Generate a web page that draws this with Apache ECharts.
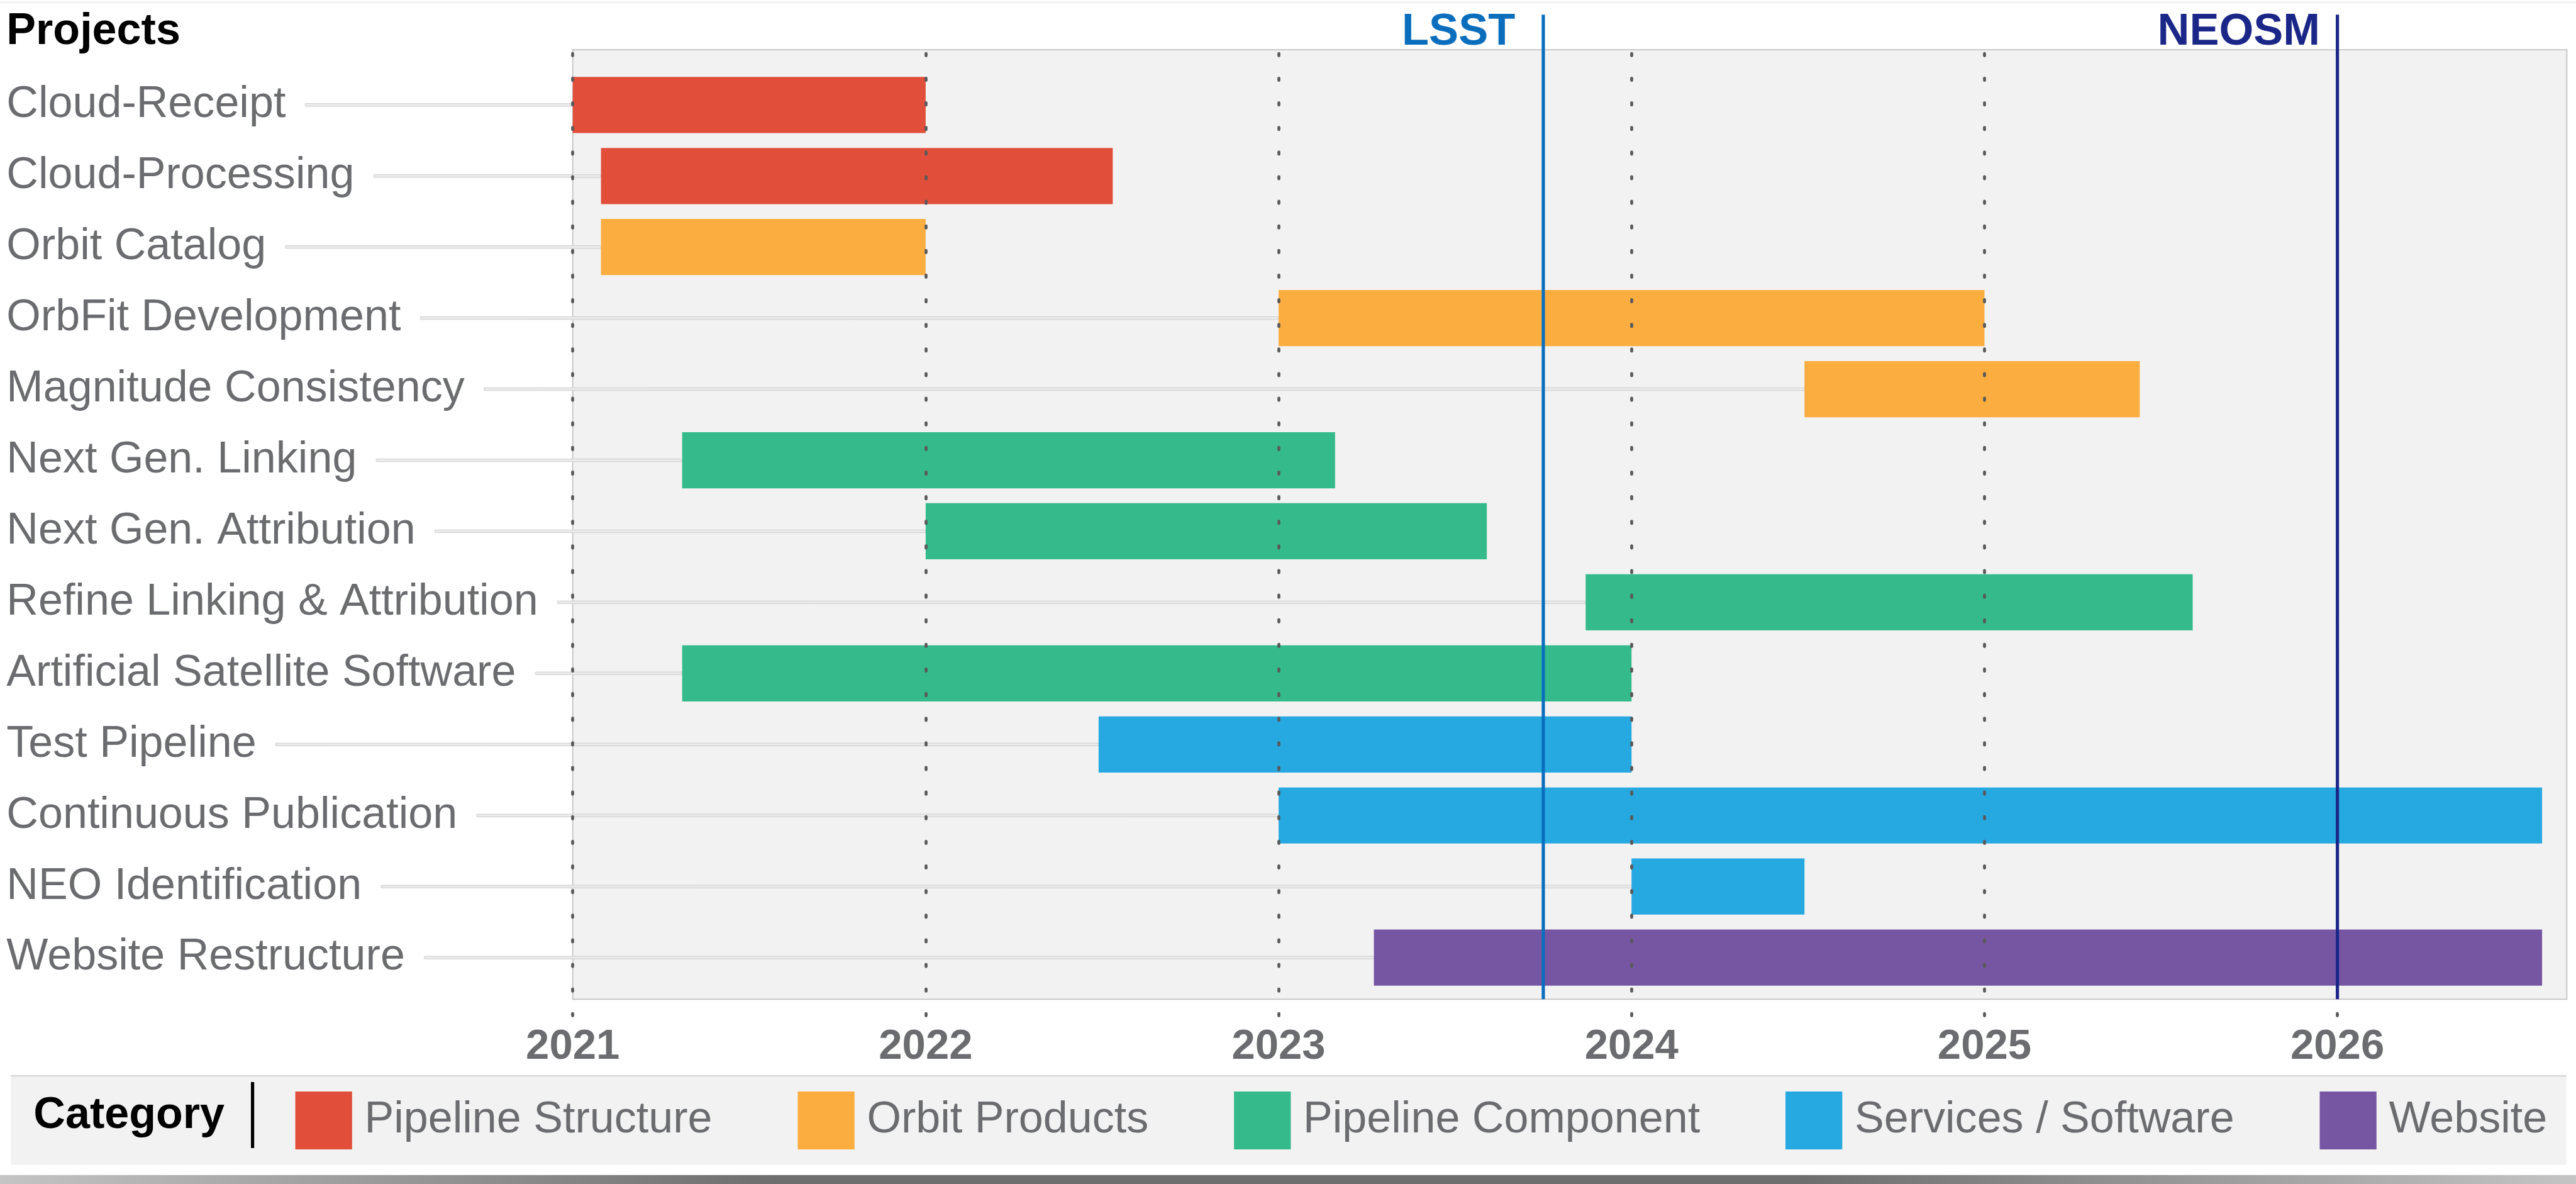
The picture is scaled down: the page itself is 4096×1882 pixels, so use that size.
<!DOCTYPE html>
<html>
<head>
<meta charset="utf-8">
<script src="https://cdn.jsdelivr.net/npm/echarts@6/dist/echarts.min.js"></script>
<style>
html,body{margin:0;padding:0;background:#ffffff;}
#chart{width:4096px;height:1882px;}
</style>
</head>
<body>
<div id="chart"></div>
<script>
// ---------------- data ----------------
const projects = [
  'Cloud-Receipt', 'Cloud-Processing', 'Orbit Catalog', 'OrbFit Development',
  'Magnitude Consistency', 'Next Gen. Linking', 'Next Gen. Attribution',
  'Refine Linking & Attribution', 'Artificial Satellite Software', 'Test Pipeline',
  'Continuous Publication', 'NEO Identification', 'Website Restructure'
];
const categories = ['Pipeline Structure', 'Orbit Products', 'Pipeline Component', 'Services / Software', 'Website'];
const projectCategory = [0, 0, 1, 1, 1, 2, 2, 2, 2, 3, 3, 3, 4];
const startYear = [2021.00, 2021.08, 2021.08, 2023.00, 2024.49, 2021.31, 2022.00, 2023.87, 2021.31, 2022.49, 2023.00, 2024.00, 2023.27];
const endYear   = [2022.00, 2022.53, 2022.00, 2025.00, 2025.44, 2023.16, 2023.59, 2025.59, 2024.00, 2024.00, 2026.58, 2024.49, 2026.58];
const yearTicks = [2021, 2022, 2023, 2024, 2025, 2026];
const milestones = ['LSST', 'NEOSM'];
const milestoneYear = [2023.75, 2026.00];

// ---------------- styles ----------------
const categoryColors = ['#E14F3B', '#FBAD3F', '#35BA8C', '#26A8E0', '#7656A3'];
const milestoneColors = ['#0B6EBD', '#1B2788'];
const K = 4096 / 4763;
const milestoneLabelGap = [52 * K, 32 * K];
const FONT = '"Liberation Sans", Arial, Helvetica, sans-serif';
const FS = 81.5 * K;
const LABEL_GRAY = '#6b6c6f';
const X_MIN = 2021, X_MAX = 2026.65;
const PLOT_L = 1059 * K, PLOT_W = 3687 * K;
const LABEL_X = 12 * K, LABEL_GAP = 36 * K;

const measureCtx = document.createElement('canvas').getContext('2d');
measureCtx.font = FS + 'px ' + FONT;
function textWidth(t) { return measureCtx.measureText(t).width; }

function barRender(params, api) {
  const row = api.value(0);
  const p0 = api.coord([api.value(1), row]);
  const p1 = api.coord([api.value(2), row]);
  const h = api.size([0, 1])[1] * 0.79;
  return {
    type: 'rect',
    shape: { x: p0[0], y: p0[1] - h / 2, width: p1[0] - p0[0], height: h },
    style: { fill: api.visual('color') }
  };
}

function connRender(params, api) {
  const row = api.value(0);
  const pEnd = api.coord([api.value(1), row]);
  const x1 = LABEL_X + textWidth(projects[row]) + LABEL_GAP;
  const hh = 5 * K;
  return {
    type: 'rect',
    shape: { x: x1, y: pEnd[1] - hh / 2, width: Math.max(0, pEnd[0] - x1), height: hh },
    style: { fill: '#ebebeb', stroke: '#cdcdcd', lineWidth: 1 }
  };
}

function msRender(params, api) {
  const cs = params.coordSys;
  const x = api.coord([api.value(0), 0])[0];
  const color = api.visual('color');
  return {
    type: 'group',
    children: [
      { type: 'line', shape: { x1: x, y1: cs.y, x2: x, y2: cs.y + cs.height },
        style: { stroke: color, lineWidth: 6 * K } },
      { type: 'text', style: {
          text: milestones[params.dataIndex], x: x - milestoneLabelGap[params.dataIndex], y: cs.y + 33 * K,
          align: 'right', verticalAlign: 'middle',
          fontFamily: FONT, fontSize: 82 * K, fontWeight: 'bold', fill: color } }
    ]
  };
}

const series = [];
categories.forEach(function (cat, c) {
  const data = [];
  projects.forEach(function (p, i) {
    if (projectCategory[i] === c) data.push([i, startYear[i], endYear[i]]);
  });
  series.push({
    type: 'custom', name: cat, xAxisIndex: 2, yAxisIndex: 2,
    renderItem: barRender, encode: { x: [1, 2], y: 0 }, data: data,
    itemStyle: { color: categoryColors[c] }, z: 3, silent: true
  });
});
series.push({
  type: 'custom', name: 'connectors', xAxisIndex: 2, yAxisIndex: 2,
  renderItem: connRender, encode: { x: 1, y: 0 },
  data: projects.map(function (p, i) { return [i, startYear[i]]; }),
  z: 1, silent: true
});
series.push({
  type: 'custom', name: 'milestones', xAxisIndex: 3, yAxisIndex: 3,
  renderItem: msRender, encode: { x: 0, y: 1 },
  data: milestones.map(function (m, i) {
    return { value: [milestoneYear[i], 0], name: m, itemStyle: { color: milestoneColors[i] } };
  }),
  z: 6, silent: true
});

function gridAt(top, bottom, extra) {
  return Object.assign({
    left: PLOT_L, width: PLOT_W, top: top * K, height: (bottom - top) * K,
    outerBoundsMode: 'none', containLabel: false
  }, extra || {});
}

const hiddenX = function (gi) { return { gridIndex: gi, type: 'value', min: X_MIN, max: X_MAX, show: false }; };

const option = {
  animation: false,
  backgroundColor: '#ffffff',
  textStyle: { fontFamily: FONT },
  grid: [
    gridAt(92, 1847, { show: true, backgroundColor: '#f2f2f2', borderColor: '#c2c2c2', borderWidth: 2 * K }),
    gridAt(99, 1890),
    gridAt(194, 1770),
    gridAt(27, 1847)
  ],
  xAxis: [
    hiddenX(0),
    {
      gridIndex: 1, type: 'value', min: X_MIN, max: X_MAX, interval: 1, z: 5,
      axisLine: { show: false }, axisTick: { show: false },
      splitLine: { show: true, showMaxLine: false,
        lineStyle: { color: '#595959', width: 5.5 * K, type: [4 * K, 41.5 * K], cap: 'round' } },
      axisLabel: {
        show: true, showMaxLabel: false, margin: 7 * K,
        fontFamily: FONT, fontSize: 78 * K, fontWeight: 'bold', color: LABEL_GRAY,
        formatter: function (v) { return yearTicks.indexOf(Math.round(v)) >= 0 && Math.abs(v - Math.round(v)) < 1e-6 ? String(Math.round(v)) : ''; }
      }
    },
    hiddenX(2),
    hiddenX(3)
  ],
  yAxis: [
    { gridIndex: 0, type: 'value', show: false },
    { gridIndex: 1, type: 'value', show: false },
    {
      gridIndex: 2, type: 'category', data: projects, inverse: true, boundaryGap: false,
      axisLine: { show: false }, axisTick: { show: false }, splitLine: { show: false },
      axisLabel: { align: 'left', margin: PLOT_L - LABEL_X, fontFamily: FONT, fontSize: FS, color: LABEL_GRAY, interval: 0 }
    },
    { gridIndex: 3, type: 'value', min: 0, max: 1, show: false }
  ],
  legend: {
    data: categories, selectedMode: false, orient: 'horizontal',
    left: 546 * K, top: (2071 - 53.5) * K, padding: 0,
    icon: 'rect', itemWidth: 105 * K, itemHeight: 107 * K, itemGap: 158 * K,
    textStyle: { fontFamily: FONT, fontSize: FS, color: LABEL_GRAY, padding: [0, 0, 0, 17 * K] }
  },
  graphic: [
    { type: 'rect', z: 0, shape: { x: 0, y: 3 * K, width: 4096, height: 3 * K }, style: { fill: '#efefef' } },
    { type: 'text', z: 10, style: { text: 'Projects', x: LABEL_X, y: 58.5 * K, verticalAlign: 'middle',
        fontFamily: FONT, fontSize: FS, fontWeight: 'bold', fill: '#000000' } },
    { type: 'rect', z: 0, shape: { x: 20 * K, y: 1988 * K, width: 4725 * K, height: 165 * K }, style: { fill: '#f2f2f2' } },
    { type: 'rect', z: 0, shape: { x: 20 * K, y: 1987 * K, width: 4725 * K, height: 3 * K }, style: { fill: '#d6d6d6' } },
    { type: 'text', z: 10, style: { text: 'Category', x: 62 * K, y: 2062 * K, verticalAlign: 'middle',
        fontFamily: FONT, fontSize: FS, fontWeight: 'bold', fill: '#000000' } },
    { type: 'line', z: 10, shape: { x1: 467 * K, y1: 2000 * K, x2: 467 * K, y2: 2122 * K }, style: { stroke: '#000000', lineWidth: 6 * K } },
    { type: 'rect', z: 0, shape: { x: 0, y: 2172 * K, width: 4096, height: 1882 - 2172 * K },
      style: { fill: new echarts.graphic.LinearGradient(0, 0, 1, 0, [
        { offset: 0, color: '#c4c4c4' }, { offset: 0.3, color: '#6e6e6e' },
        { offset: 0.7, color: '#6e6e6e' }, { offset: 1, color: '#c4c4c4' }]) } }
  ],
  series: series
};

const chart = echarts.init(document.getElementById('chart'), null, { renderer: 'canvas' });
chart.setOption(option);
</script>
</body>
</html>
